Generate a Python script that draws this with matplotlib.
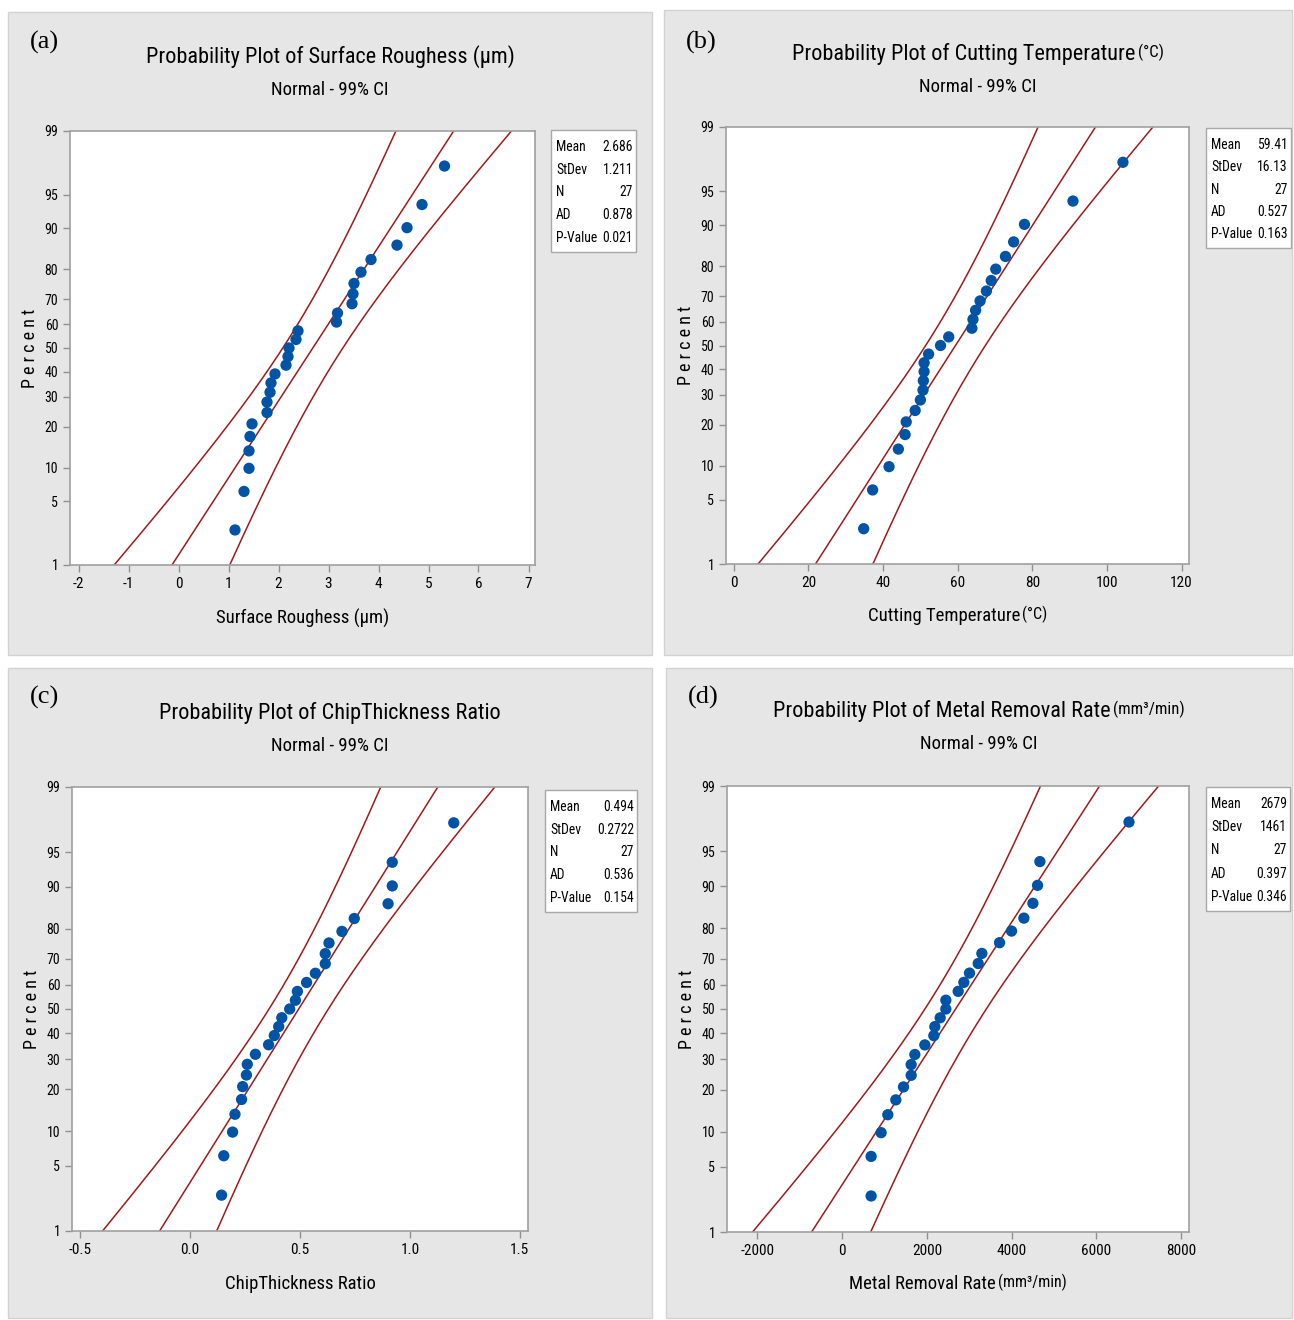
import matplotlib
matplotlib.use("Agg")
import matplotlib.pyplot as plt
from matplotlib.patches import Rectangle
from statistics import NormalDist
import numpy as np

W, H = 1294, 1320
NARROW = dict(family=['Roboto Condensed', 'Liberation Sans', 'DejaVu Sans'])
SERIF = ['Liberation Serif', 'DejaVu Serif']

# === data ===
rough = [1.13, 1.31, 1.41, 1.41, 1.43, 1.47, 1.77, 1.77, 1.83, 1.85, 1.93, 2.15, 2.19, 2.21,
         2.35, 2.39, 3.16, 3.18, 3.47, 3.49, 3.51, 3.65, 3.85, 4.37, 4.57, 4.87, 5.32]
temp = [34.8, 37.2, 41.6, 44.1, 45.9, 46.2, 48.6, 50.0, 50.8, 50.7, 51.0, 51.0, 52.2, 55.4,
        57.6, 63.8, 64.1, 64.8, 66.0, 67.7, 69.0, 70.2, 72.8, 75.0, 77.9, 90.9, 104.3]
chip = [0.143, 0.153, 0.193, 0.204, 0.234, 0.239, 0.256, 0.260, 0.297, 0.357, 0.383, 0.403,
        0.417, 0.453, 0.479, 0.488, 0.530, 0.570, 0.615, 0.615, 0.632, 0.691, 0.747, 0.901,
        0.920, 0.920, 1.200]
mrr = [685, 685, 921, 1079, 1268, 1449, 1630, 1630, 1717, 1953, 2165, 2189, 2315, 2449,
       2449, 2740, 2874, 3008, 3213, 3299, 3717, 4000, 4291, 4504, 4614, 4669, 6772]

means = [2.686, 59.41, 0.494, 2679]
stdevs = [1.211, 16.13, 0.2722, 1461]
ns = [27, 27, 27, 27]
ads = ['0.878', '0.527', '0.536', '0.397']
pvals = ['0.021', '0.163', '0.154', '0.346']
mean_txt = ['2.686', '59.41', '0.494', '2679']
sd_txt = ['1.211', '16.13', '0.2722', '1461']

pct_ticks = [1, 5, 10, 20, 30, 40, 50, 60, 70, 80, 90, 95, 99]
xticks_all = [list(range(-2, 8)), list(range(0, 121, 20)), [-0.5, 0.0, 0.5, 1.0, 1.5],
              list(range(-2000, 8001, 2000))]
xtick_fmt = ['{:g}', '{:g}', '{:.1f}', '{:g}']
xlims = [(-2.17, 7.13), (-2.1, 122.0), (-0.538, 1.538), (-2717, 8189)]

letters = ['(a)', '(b)', '(c)', '(d)']
titles = ['Probability Plot of Surface Roughess (μm)', 'Probability Plot of Cutting Temperature',
          'Probability Plot of ChipThickness Ratio', 'Probability Plot of Metal Removal Rate']
title_units = [None, '(°C)', None, '(mm³/min)']
xlabels = ['Surface Roughess (μm)', 'Cutting Temperature', 'ChipThickness Ratio', 'Metal Removal Rate']
xlabel_units = [None, '(°C)', None, '(mm³/min)']
datasets = [rough, temp, chip, mrr]

# layout in pixels (x0, y0, x1, y1), top-left origin
panels = [(8, 12, 652, 655), (664, 10, 1292, 655), (8, 668, 652, 1318), (666, 668, 1292, 1318)]
axes_px = [(70, 131, 535, 565), (726, 127, 1189, 564), (72, 787, 528, 1231), (727, 786, 1189, 1232)]
boxes_px = [(551, 130, 636, 252), (1206, 128, 1291, 248), (545, 790, 637, 912), (1206, 787, 1290, 911)]
title_y = [57, 54, 713, 711]
sub_y = [90, 87, 746, 744]
xlab_y = [618, 616, 1284, 1284]
letter_y = [42, 42, 697, 697]

nd = NormalDist()
zq = nd.inv_cdf(0.995)


def fig_rect(r):
    x0, y0, x1, y1 = r
    return [x0 / W, 1 - y1 / H, (x1 - x0) / W, (y1 - y0) / H]


fig = plt.figure(figsize=(W / 100, H / 100), dpi=100)
fig.patch.set_facecolor('white')
renderer = fig.canvas.get_renderer()


def two_part(cx_px, y_px, main, unit, size, usize, gap=2):
    # main text + smaller unit text, whole group centred on cx_px
    t = fig.text(cx_px / W, 1 - y_px / H, main, fontsize=size, ha='left', va='center', **NARROW)
    if unit is None:
        t.set_ha('center')
        return
    u = fig.text(0, 1 - (y_px - size * 0.12) / H, unit, fontsize=usize, ha='left',
                 va='center', **NARROW)
    wm = t.get_window_extent(renderer).width
    wu = u.get_window_extent(renderer).width
    left = cx_px - (wm + gap + wu) / 2
    t.set_x(left / W)
    u.set_x((left + wm + gap) / W)


for k in range(4):
    # gray panel background
    x0, y0, x1, y1 = panels[k]
    fig.patches.append(Rectangle((x0 / W, 1 - y1 / H), (x1 - x0) / W, (y1 - y0) / H,
                                 transform=fig.transFigure, facecolor='#e6e6e6',
                                 edgecolor='#d2d2d2', linewidth=1.0, zorder=-5))
    ax = fig.add_axes(fig_rect(axes_px[k]))
    ax.set_zorder(1)
    ax.set_facecolor('white')

    vals = np.sort(np.array(datasets[k], dtype=float))
    n = len(vals)
    ranks = [(i + 0.7) / (n + 0.4) for i in range(n)]
    zs = [nd.inv_cdf(p) for p in ranks]

    # fitted line and 99% CI bands from the reported mean / stdev
    mu, sd, nn = means[k], stdevs[k], ns[k]
    zline = np.linspace(nd.inv_cdf(0.01), nd.inv_cdf(0.99), 200)
    fit = mu + zline * sd
    half = zq * sd * np.sqrt(1 / nn + zline ** 2 / (2 * nn))
    for xs in (fit - half, fit, fit + half):
        ax.plot(xs, zline, color='#9e1b1b', lw=1.1, zorder=2)
    ax.scatter(vals, zs, s=66, color='#0053a5', zorder=3, edgecolors='none')

    ax.set_ylim(nd.inv_cdf(0.01), nd.inv_cdf(0.99))
    ax.set_xlim(*xlims[k])
    ax.set_yticks([nd.inv_cdf(p / 100) for p in pct_ticks])
    ax.set_yticklabels([str(p) for p in pct_ticks], fontsize=10, **NARROW)
    ax.set_xticks(xticks_all[k])
    ax.set_xticklabels([xtick_fmt[k].format(v) for v in xticks_all[k]], fontsize=11, **NARROW)
    for s in ax.spines.values():
        s.set_color('#a0a0a0')
        s.set_linewidth(1.2)
    ax.tick_params(colors='#909090', labelcolor='black', length=5, width=1)

    ax.set_ylabel(' '.join('Percent'), fontsize=13, labelpad=4, **NARROW)

    # header texts
    px0, _, px1, _ = panels[k]
    pcx = (px0 + px1) / 2
    acx = (axes_px[k][0] + axes_px[k][2]) / 2
    fig.text((px0 + 22) / W, 1 - letter_y[k] / H, letters[k],
             family=SERIF, fontsize=19, ha='left', va='center')
    two_part(pcx, title_y[k], titles[k], title_units[k], 16, 12)
    fig.text(pcx / W, 1 - sub_y[k] / H, 'Normal - 99% CI', fontsize=13.5,
             ha='center', va='center', **NARROW)
    two_part(acx, xlab_y[k], xlabels[k], xlabel_units[k], 13.5, 11.5)

    # stats box
    bx0, by0, bx1, by1 = boxes_px[k]
    fig.patches.append(Rectangle((bx0 / W, 1 - by1 / H), (bx1 - bx0) / W, (by1 - by0) / H,
                                 transform=fig.transFigure, facecolor='white',
                                 edgecolor='#a8a8a8', linewidth=1.0, zorder=2))
    names = ['Mean', 'StDev', 'N', 'AD', 'P-Value']
    values = [mean_txt[k], sd_txt[k], str(ns[k]), ads[k], pvals[k]]
    step = (by1 - by0 - 31) / 4
    for j in range(5):
        yy = 1 - (by0 + 17 + j * step) / H
        fig.text((bx0 + 5) / W, yy, names[j], fontsize=9.8,
                 ha='left', va='center', zorder=3, **NARROW)
        fig.text((bx1 - 3) / W, yy, values[j], fontsize=9.8,
                 ha='right', va='center', zorder=3, **NARROW)

fig.savefig('out.png', dpi=100)
